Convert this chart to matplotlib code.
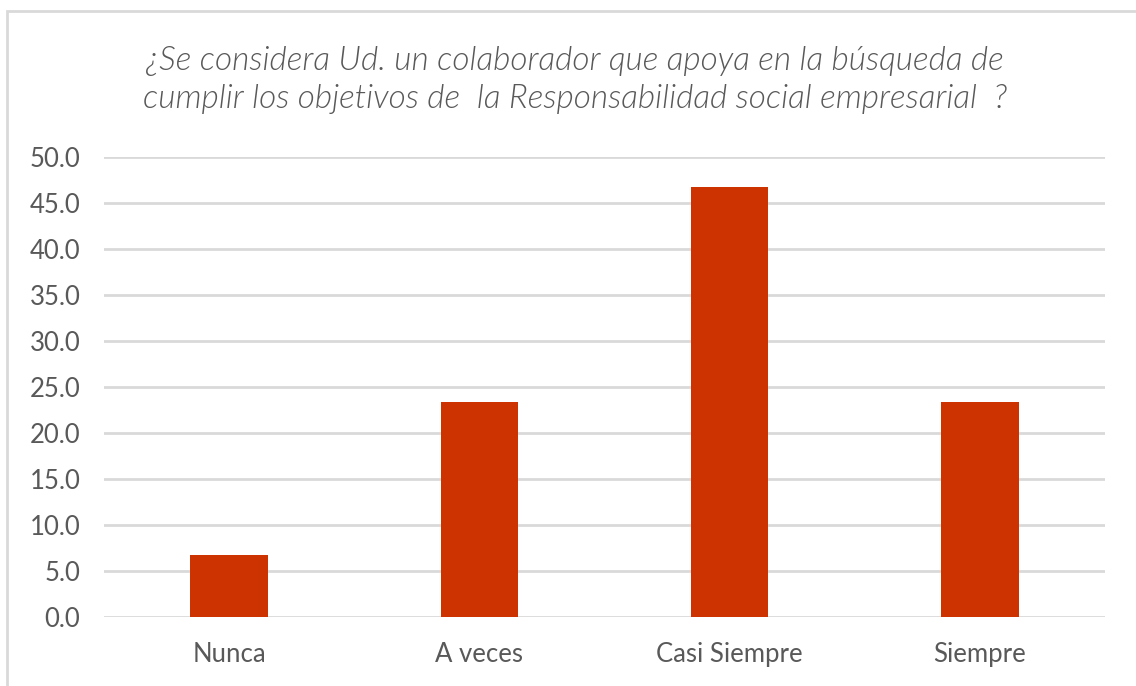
import matplotlib.pyplot as plt
from matplotlib.patches import Rectangle

# data
categories = ["Nunca", "A veces", "Casi Siempre", "Siempre"]
percent = [6.7, 23.3, 46.7, 23.3]
y_ticks = [0, 5, 10, 15, 20, 25, 30, 35, 40, 45, 50]

title = ("¿Se considera Ud. un colaborador que apoya en la búsqueda de\n"
         "cumplir los objetivos de  la Responsabilidad social empresarial  ?")

plt.rcParams['font.family'] = ['Lato', 'DejaVu Sans']
text_gray = '#595959'
grid_gray = '#d9d9d9'

fig = plt.figure(figsize=(11.36, 6.86), dpi=100)
ax = fig.add_axes([104 / 1136, 1 - 616.7 / 686, 1001 / 1136, 460 / 686])

ax.bar(range(len(categories)), percent, width=0.31, color='#CC3300', zorder=3)

ax.set_xlim(-0.5, len(categories) - 0.5)
ax.set_ylim(0, 50)
ax.set_yticks(y_ticks)
ax.set_yticklabels([f"{v:.1f}" for v in y_ticks])
ax.set_xticks(range(len(categories)))
ax.set_xticklabels(categories)

ax.grid(axis='y', color=grid_gray, linewidth=2, zorder=0)
ax.set_axisbelow(True)
for s in ax.spines.values():
    s.set_visible(False)
ax.tick_params(axis='both', length=0, labelsize=18.5, labelcolor=text_gray)
ax.tick_params(axis='y', pad=17)
ax.tick_params(axis='x', pad=18)

fig.text(0.506, 1 - 80 / 686, title, ha='center', va='center', fontsize=24,
         style='italic', weight=300, color=text_gray, linespacing=1.3)

# chart frame (cut off at right and bottom)
fig.add_artist(Rectangle((7 / 1136, -0.1), 1.2, 1 - 11 / 686 + 0.1,
                         transform=fig.transFigure, fill=False,
                         edgecolor=grid_gray, linewidth=2))

fig.savefig("out.png", dpi=100, facecolor='white')
